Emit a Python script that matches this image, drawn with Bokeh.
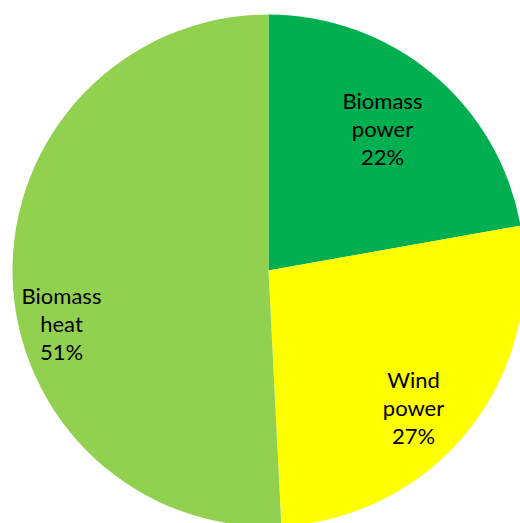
import math
from bokeh.plotting import figure
from bokeh.models import ColumnDataSource, Range1d
from bokeh.core.properties import value
from bokeh.embed import file_html
from bokeh.resources import INLINE

# Data
categories = ["Biomass power", "Wind power", "Biomass heat"]
shares = [22.2, 27.0, 50.8]
colors = ["#00B050", "#FFFF00", "#92D050"]

# Layout (pixels in the figure space)
W, H = 520, 523
cx, cy, r = 268, 253, 256
label_centers = [(382, 395.5), (413, 116), (61, 200.5)]
line_gap = 28

total = float(sum(shares))
starts, ends = [], []
acc = 0.0
for s in shares:
    a0 = math.pi / 2 - 2 * math.pi * acc / total
    acc += s
    a1 = math.pi / 2 - 2 * math.pi * acc / total
    starts.append(a0)
    ends.append(a1)

src = ColumnDataSource(dict(cat=categories, share=shares, color=colors,
                            start=starts, end=ends))

p = figure(width=W, height=H, output_backend="svg", toolbar_location=None,
           x_range=Range1d(0, W), y_range=Range1d(0, H), min_border=0,
           match_aspect=False)
p.axis.visible = False
p.grid.visible = False
p.outline_line_color = None
p.background_fill_color = "white"
p.border_fill_color = "white"

p.wedge(x=cx, y=cy, radius=r, start_angle="start", end_angle="end",
        direction="clock", fill_color="color", line_color=None, source=src)

xs, ys, texts = [], [], []
for cat, sh, (lx, ly) in zip(categories, shares, label_centers):
    lines = cat.split(" ") + [f"{round(sh / total * 100)}%"]
    n = len(lines)
    for i, t in enumerate(lines):
        xs.append(lx)
        ys.append(ly + (n - 1) / 2 * line_gap - i * line_gap)
        texts.append(t)

p.text(x=xs, y=ys, text=texts, text_font=value("Lato"),
       text_font_size=value("22px"), text_align="center",
       text_baseline="middle", text_color="#000000")

open("out.html", "w").write(file_html(p, INLINE))
